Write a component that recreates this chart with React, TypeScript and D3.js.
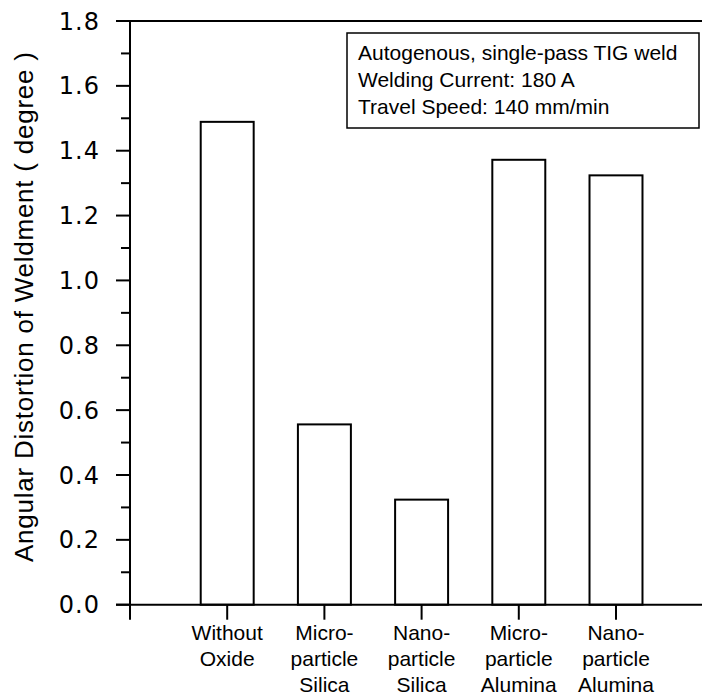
import React from "react";
import * as d3 from "d3";

const categories: string[][] = [
  ["Without", "Oxide"],
  ["Micro-", "particle", "Silica"],
  ["Nano-", "particle", "Silica"],
  ["Micro-", "particle", "Alumina"],
  ["Nano-", "particle", "Alumina"],
];
const values: number[] = [1.489, 0.556, 0.324, 1.372, 1.324];
const yTicks: number[] = [0, 0.2, 0.4, 0.6, 0.8, 1.0, 1.2, 1.4, 1.6, 1.8];
const yMinorTicks: number[] = [0.1, 0.3, 0.5, 0.7, 0.9, 1.1, 1.3, 1.5, 1.7];
const legendLines: string[] = [
  "Autogenous, single-pass TIG weld",
  "Welding Current: 180 A",
  "Travel Speed: 140 mm/min",
];
const yLabel = "Angular Distortion of Weldment ( degree )";

export default function App() {
  const W = 703;
  const H = 697;
  const axisX = 130;
  const rightX = 702;
  const y = d3.scaleLinear().domain([0, 1.8]).range([604.7, 21]);
  const keys = categories.map((_, i) => String(i));
  const x = d3
    .scaleBand<string>()
    .domain(keys)
    .range([axisX + 97.2 * 0.5, axisX + 97.2 * 5.5])
    .paddingInner(0.455)
    .paddingOuter(0.2275);
  const bw = x.bandwidth();
  const sans = "Arial, 'Liberation Sans', sans-serif";
  const tickFont = "'DejaVu Sans', Verdana, sans-serif";

  return (
    <svg
      width={W}
      height={H}
      style={{ position: "absolute", left: 0, top: 0, background: "#fff" }}
    >
      {values.map((v, i) => (
        <rect
          key={i}
          x={x(String(i))!}
          y={y(v)}
          width={bw}
          height={y(0) - y(v)}
          fill="#fff"
          stroke="#000"
          strokeWidth={2}
        />
      ))}
      <line x1={116} x2={rightX} y1={y(1.8)} y2={y(1.8)} stroke="#000" strokeWidth={2} />
      <line x1={116} x2={rightX} y1={y(0)} y2={y(0)} stroke="#000" strokeWidth={2} />
      <line x1={axisX} x2={axisX} y1={y(1.8)} y2={y(0) + 15} stroke="#000" strokeWidth={2} />
      {yTicks.map((t) => (
        <g key={t}>
          <line x1={116} x2={axisX} y1={y(t)} y2={y(t)} stroke="#000" strokeWidth={2} />
          <text
            x={100}
            y={y(t)}
            dy="0.36em"
            textAnchor="end"
            fontFamily={tickFont}
            fontSize={24}
            letterSpacing={1}
            fill="#000"
          >
            {t.toFixed(1)}
          </text>
        </g>
      ))}
      {yMinorTicks.map((t) => (
        <line key={t} x1={121} x2={axisX} y1={y(t)} y2={y(t)} stroke="#000" strokeWidth={2} />
      ))}
      {categories.map((lines, i) => {
        const cx = x(String(i))! + bw / 2;
        return (
          <g key={i}>
            <line x1={cx} x2={cx} y1={y(0)} y2={y(0) + 15} stroke="#000" strokeWidth={2} />
            {lines.map((l, j) => (
              <text
                key={j}
                x={cx}
                y={640 + j * 26}
                textAnchor="middle"
                fontFamily={sans}
                fontSize={21}
                fill="#000"
              >
                {l}
              </text>
            ))}
          </g>
        );
      })}
      <text
        transform={`translate(33, ${(52 + 562) / 2}) rotate(-90)`}
        textAnchor="middle"
        fontFamily={sans}
        fontSize={26}
        textLength={510}
        lengthAdjust="spacing"
        fill="#000"
      >
        {yLabel}
      </text>
      <rect x={347} y={33} width={352} height={95} fill="#fff" stroke="#000" strokeWidth={1.5} />
      {legendLines.map((l, i) => (
        <text
          key={i}
          x={358}
          y={60 + i * 27}
          fontFamily={sans}
          fontSize={21}
          fill="#000"
        >
          {l}
        </text>
      ))}
    </svg>
  );
}
